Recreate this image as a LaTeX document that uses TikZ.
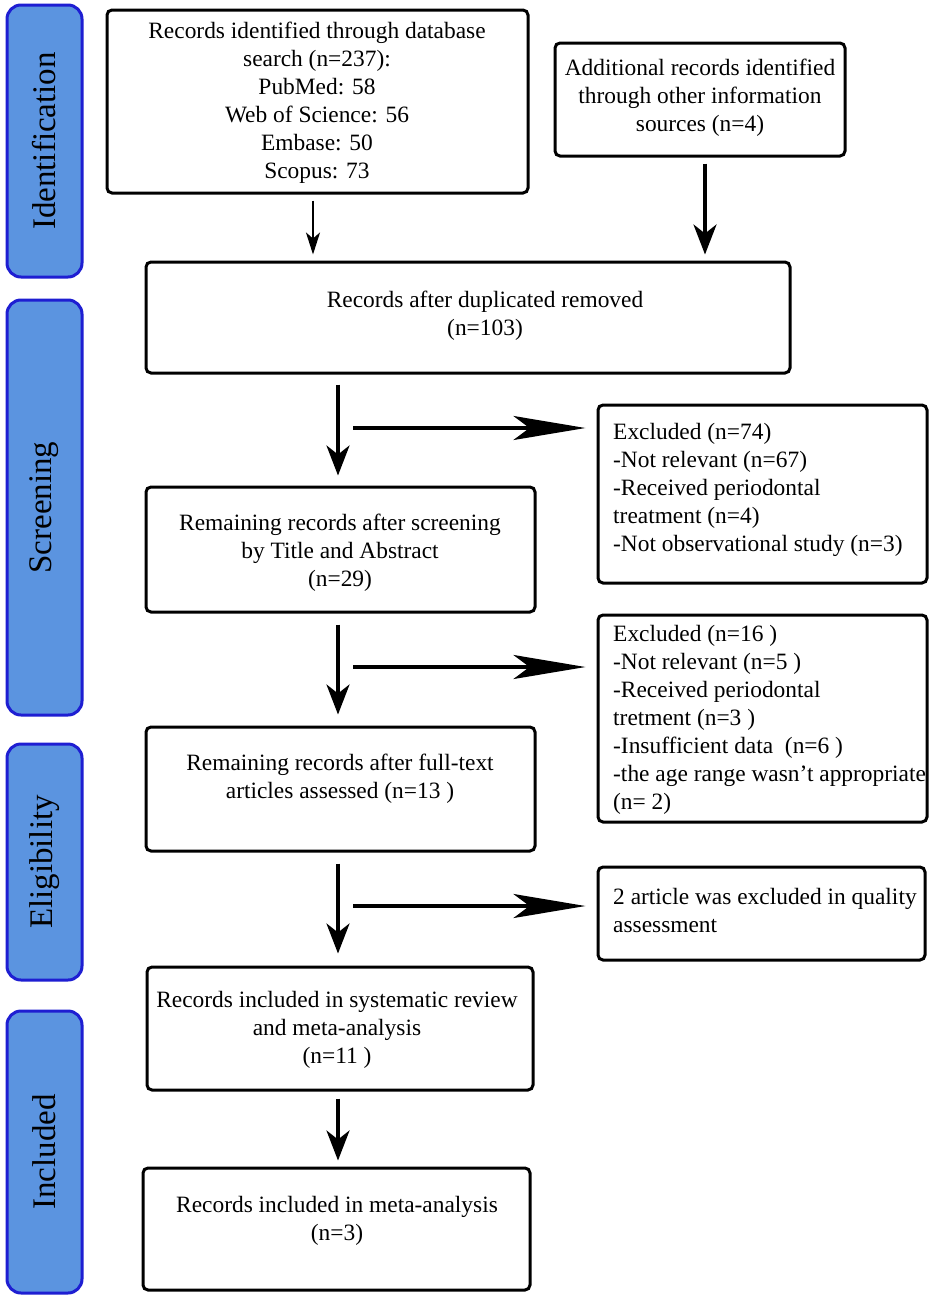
\documentclass[tikz,border=0pt]{standalone}
\usepackage{fontspec}
\setmainfont{Liberation Serif}
\usetikzlibrary{arrows.meta}
\definecolor{barfill}{RGB}{91,148,224}
\definecolor{barline}{RGB}{30,30,210}
\begin{document}
\begin{tikzpicture}[x=1pt,y=-1pt,
  every node/.style={font=\fontsize{23.4}{28}\selectfont, inner sep=0pt},
  bx/.style={draw=black, line width=3pt, rounded corners=5pt, fill=white},
  bar/.style={draw=barline, fill=barfill, line width=3pt, rounded corners=14pt, minimum width=75pt},
  barlabel/.style={rotate=90, font=\fontsize{33}{40}\selectfont},
  ctxt/.style={align=center},
  ltxt/.style={align=left, anchor=west},
  varr/.style={line width=3.5pt, -{Stealth[length=30pt,width=23pt,inset=9pt]}},
  thinarr/.style={line width=2pt, -{Stealth[length=22pt,width=14pt,inset=6pt]}},
  harr/.style={line width=3.5pt, -{Stealth[length=72pt,width=24pt,inset=16pt]}}]
\useasboundingbox (0,0) rectangle (935,1309);
\fill[white] (0,0) rectangle (935,1309);

% side bars
\node[bar, minimum height=272pt] (s1) at (44.5,141) {};
\node[barlabel] (l1) at (s1.center) {Identification};
\node[bar, minimum height=415pt] (s2) at (44.5,507.5) {};
\node[barlabel] (l2) at (s2.center) {Screening};
\node[bar, minimum height=236pt] (s3) at (44.5,862) {};
\node[barlabel] (l3) at (s3.center) {Eligibility};
\node[bar, minimum height=282pt] (s4) at (44.5,1152) {};
\node[barlabel] (l4) at (s4.center) {Included};

% boxes
\node[bx, minimum width=421pt, minimum height=183pt] (b1) at (317.5,101.5) {};
\node[ctxt] (t1) at (317,103) {Records identified through database\\search (n=237):\\PubMed: 58\\Web of Science: 56\\Embase: 50\\Scopus: 73};
\node[bx, minimum width=290pt, minimum height=113pt] (b2) at (700,99.5) {};
\node[ctxt] (t2) at (700,98) {Additional records identified\\through other information\\sources (n=4)};
\node[bx, minimum width=644pt, minimum height=111pt] (b3) at (468,317.5) {};
\node[ctxt] (t3) at (485,315.5) {Records after duplicated removed\\(n=103)};
\node[bx, minimum width=389pt, minimum height=125pt] (b4) at (340.5,549.5) {};
\node[ctxt] (t4) at (340,553) {Remaining records after screening\\by Title and Abstract\\(n=29)};
\node[bx, minimum width=389pt, minimum height=124pt] (b5) at (340.5,789) {};
\node[ctxt] (t5) at (340,779) {Remaining records after full-text\\articles assessed (n=13 )};
\node[bx, minimum width=386pt, minimum height=123pt] (b6) at (340,1028.5) {};
\node[ctxt] (t6) at (337,1030) {Records included in systematic review\\and meta-analysis\\(n=11 )};
\node[bx, minimum width=387pt, minimum height=122pt] (b7) at (336.5,1229) {};
\node[ctxt] (t7) at (337,1221) {Records included in meta-analysis\\(n=3)};

\node[bx, minimum width=329pt, minimum height=178pt] (e1) at (762.5,494) {};
\node[ltxt] (te1) at (613,490) {Excluded (n=74)\\-Not relevant (n=67)\\-Received periodontal\\treatment (n=4)\\-Not observational study (n=3)};
\node[bx, minimum width=329pt, minimum height=207pt] (e2) at (762.5,718.5) {};
\node[ltxt] (te2) at (613,720) {Excluded (n=16 )\\-Not relevant (n=5 )\\-Received periodontal\\tretment (n=3 )\\-Insufficient data\ \ (n=6 )\\-the age range wasn’t appropriate\\(n= 2)};
\node[bx, minimum width=327pt, minimum height=93pt] (e3) at (761.5,913.5) {};
\node[ltxt] (te3) at (613,910.5) {2 article was excluded in quality\\assessment};

% connector x positions
\coordinate (x1) at (313,0);
\coordinate (x2) at (705,0);
\coordinate (xm) at (338,0);
\coordinate (h1) at (353,428);
\coordinate (h2) at (353,667);
\coordinate (h3) at (353,906);

\draw[thinarr, shorten <=6pt, shorten >=6pt] (b1.south -| x1) -- (b3.north -| x1);
\draw[varr, shorten <=6pt, shorten >=6pt] (b2.south -| x2) -- (b3.north -| x2);
\draw[varr, shorten <=10pt, shorten >=10pt] (b3.south -| xm) -- (b4.north -| xm);
\draw[varr, shorten <=11pt, shorten >=11pt] (b4.south -| xm) -- (b5.north -| xm);
\draw[varr, shorten <=11pt, shorten >=12pt] (b5.south -| xm) -- (b6.north -| xm);
\draw[varr, shorten <=7pt, shorten >=6pt] (b6.south -| xm) -- (b7.north -| xm);

\draw[harr, shorten >=11pt] (h1) -- (h1 -| e1.west);
\draw[harr, shorten >=11pt] (h2) -- (h2 -| e2.west);
\draw[harr, shorten >=11pt] (h3) -- (h3 -| e3.west);
\end{tikzpicture}
\end{document}
